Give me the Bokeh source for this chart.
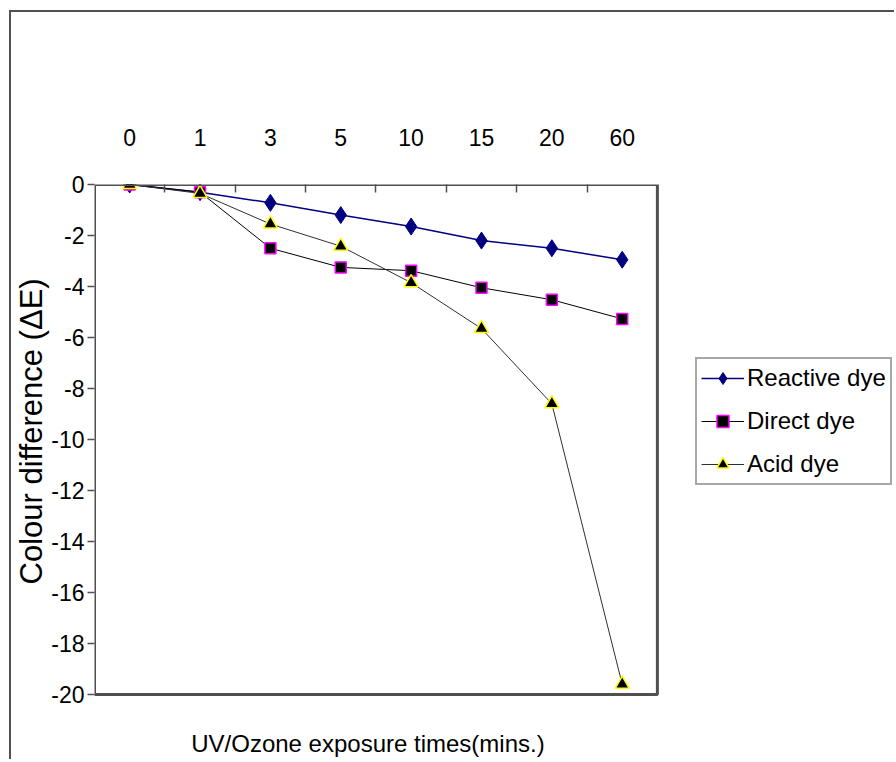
from bokeh.plotting import figure
from bokeh.models import (FixedTicker, Range1d, Legend, LegendItem, Label,
                          BoxAnnotation, Title)
from bokeh.embed import file_html
from bokeh.resources import INLINE

# ---- data ----
categories = ["0", "1", "3", "5", "10", "15", "20", "60"]
reactive = [0, -0.3, -0.72, -1.2, -1.65, -2.2, -2.5, -2.95]
direct = [0, -0.3, -2.5, -3.25, -3.38, -4.05, -4.52, -5.27]
acid = [0, -0.35, -1.55, -2.42, -3.85, -5.65, -8.6, -19.6]
y_ticks = [0, -2, -4, -6, -8, -10, -12, -14, -16, -18, -20]
y_tick_labels = ["0", "-2", "-4", "-6", "-8", "-10", "-12", "-14", "-16", "-18", "-20"]
x_title = "UV/Ozone exposure times(mins.)"
y_title = "Colour difference (\u0394E)"

n = len(categories)
xs = [i + 0.5 for i in range(n)]
FONT = "Liberation Sans"
GRAY = "#505050"

# canvas origin sits at about (11, 12) in the window because of the border
OX, OY = 11, 12
W, H = 885, 749
PLOT_L, PLOT_R, PLOT_T, PLOT_B = 91, 656, 184, 694
frame_r = OX + W
frame_b = OY + H
# frame extended to the canvas right / bottom so legend and title can sit outside the plot box
x_end = n * (frame_r - PLOT_L) / (PLOT_R - PLOT_L)
y_start = -20 - 20 * (frame_b - PLOT_B) / (PLOT_B - PLOT_T)

p = figure(width=W, height=H, output_backend="svg", toolbar_location=None,
           x_range=Range1d(0, x_end), y_range=Range1d(y_start, 0),
           x_axis_location="above",
           min_border_left=PLOT_L - OX, min_border_right=0,
           min_border_top=PLOT_T - OY, min_border_bottom=0)
p.margin = (10, 0, 0, 9)
p.styles = {"border-top": f"2px solid {GRAY}", "border-left": f"2px solid {GRAY}",
            "border-right": "none", "border-bottom": "none"}
p.xgrid.visible = False
p.ygrid.visible = False
p.outline_line_color = None

# plot-area box
p.add_layout(BoxAnnotation(left=0, right=n, top=0, bottom=-20, fill_alpha=0,
                           line_color=GRAY, line_alpha=1, line_width=3))

# top x axis
xa = p.xaxis[0]
xa.ticker = FixedTicker(ticks=xs, minor_ticks=list(range(1, n)))
xa.major_label_overrides = {x: c for x, c in zip(xs, categories)}
xa.major_tick_line_color = None
xa.minor_tick_in = 8
xa.minor_tick_out = 0
xa.minor_tick_line_color = GRAY
xa.minor_tick_line_width = 1.5
xa.axis_line_color = None
xa.major_label_standoff = 33
xa.major_label_text_font = FONT
xa.major_label_text_font_size = "23px"
xa.major_label_text_color = "black"

# left y axis
ya = p.yaxis[0]
ya.ticker = FixedTicker(ticks=y_ticks)
ya.major_label_overrides = {t: s for t, s in zip(y_ticks, y_tick_labels)}
ya.major_tick_in = 0
ya.major_tick_out = 7
ya.major_tick_line_color = GRAY
ya.major_tick_line_width = 1.5
ya.minor_tick_line_color = None
ya.axis_line_color = None
ya.major_label_standoff = 3
ya.major_label_text_font = FONT
ya.major_label_text_font_size = "23px"
ya.major_label_text_color = "black"

# y title, starting near the bottom of the plot box (reads bottom to top)
p.add_layout(Title(text=y_title, align="left", offset=177,
                   standoff=0, text_font=FONT, text_font_size="31px",
                   text_font_style="normal", text_color="black"), "left")

# x title below the plot box
p.add_layout(Label(x=n / 2, y=-20, x_offset=-8, y_offset=-49, text=x_title,
                   text_align="center", text_baseline="middle",
                   text_font=FONT, text_font_size="24px", text_color="black"))

# series
l1 = p.line(xs, reactive, line_color="#000080", line_width=1.5)
m1 = p.scatter(xs, reactive, marker="diamond", size=17, fill_color="#000080",
               line_color="#000080")
l2 = p.line(xs, direct, line_color="black", line_width=1)
m2 = p.scatter(xs, direct, marker="square", size=11, fill_color="black",
               line_color="#FF00FF", line_width=1.5)
l3 = p.line(xs, acid, line_color="#303030", line_width=1)
m3 = p.scatter(xs, acid, marker="triangle", size=14, fill_color="black",
               line_color="#FFFF00", line_width=1.5)

legend = Legend(items=[
    LegendItem(label="Reactive dye", renderers=[l1, m1]),
    LegendItem(label="Direct dye", renderers=[l2, m2]),
    LegendItem(label="Acid dye", renderers=[l3, m3]),
], location=(692 - PLOT_L, frame_b - 485))
legend.label_text_font = FONT
legend.label_text_font_size = "24px"
legend.label_text_color = "black"
legend.glyph_width = 43
legend.glyph_height = 30
legend.spacing = 13
legend.padding = 4
legend.margin = 0
legend.label_standoff = 3
legend.border_line_color = GRAY
legend.border_line_width = 2
legend.background_fill_alpha = 1
p.add_layout(legend)

open("out.html", "w").write(file_html(p, INLINE))
